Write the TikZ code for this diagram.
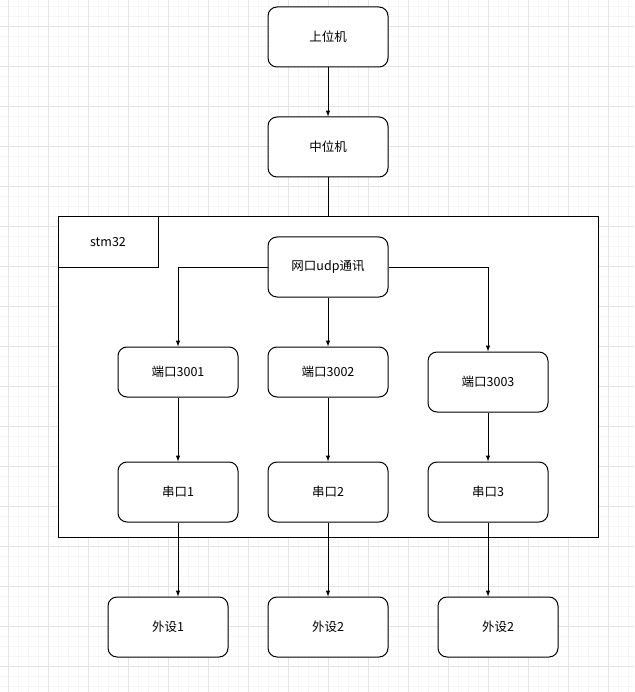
\documentclass[tikz,border=0pt]{standalone}
\usepackage{fontspec}
\setmainfont{Noto Sans CJK SC}
\usetikzlibrary{arrows}
\definecolor{gridminor}{RGB}{246,246,246}
\definecolor{gridmajor}{RGB}{228,228,228}

\tikzset{
  box/.style={draw, line width=1pt, rounded corners=9, fill=white,
    minimum width=120, minimum height=60, inner sep=0,
    font=\fontsize{12.5}{14}\selectfont},
  flat/.style={draw, line width=1pt, fill=white, inner sep=0,
    font=\fontsize{12.5}{14}\selectfont},
  link/.style={line width=1pt},
  arr/.style={-latex, line width=1pt}
}

\begin{document}
\begin{tikzpicture}[x=1pt,y=-1pt]
\useasboundingbox (0,0) rectangle (634,692);
\fill[white] (0,0) rectangle (634,692);

% grid
\foreach \i in {0,...,62}{
  \draw[gridminor, line width=0.6pt] (8.3+10*\i,0) -- ++(0,692);
}
\foreach \j in {0,...,68}{
  \draw[gridminor, line width=0.6pt] (0,6.7+10*\j) -- ++(634,0);
}
\foreach \i in {0,...,15}{
  \draw[gridmajor, line width=0.6pt] (8.3+40*\i,0) -- ++(0,692);
}
\foreach \j in {0,...,16}{
  \draw[gridmajor, line width=0.6pt] (0,26.7+40*\j) -- ++(634,0);
}

\node[box] (upper) at (328,37) {上位机};
\node[box] (middle) at (328,147) {中位机};

% stm32 frame
\node[flat, minimum width=540, minimum height=320] (stm) at (328,377) {};
\node[flat, minimum width=100, minimum height=50] (stmtag) at (108,242) {stm32};

\node[box] (udp) at (328,267) {网口udp通讯};
\node[box, minimum height=50] (port1) at (178,372) {端口3001};
\node[box, minimum height=50] (port2) at (328,372) {端口3002};
\node[box] (port3) at (488,382) {端口3003};

\node[box] (uart1) at (178,492) {串口1};
\node[box] (uart2) at (328,492) {串口2};
\node[box] (uart3) at (488,492) {串口3};

\node[box] (dev1) at (168,627) {外设1};
\node[box] (dev2) at (328,627) {外设2};
\node[box] (dev3) at (498,627) {外设2};

\draw[arr] (upper) -- (middle);
\draw[link] (middle) -- (stm.north);

\draw[arr] (udp.west) -| (port1);
\draw[arr] (udp) -- (port2);
\draw[arr] (udp.east) -| (port3);

\draw[arr] (port1) -- (uart1);
\draw[arr] (port2) -- (uart2);
\draw[arr] (port3) -- (uart3);

\draw[arr] (uart1.south) -- (uart1.south |- dev1.north);
\draw[arr] (uart2) -- (dev2);
\draw[arr] (uart3.south) -- (uart3.south |- dev3.north);
\end{tikzpicture}
\end{document}
